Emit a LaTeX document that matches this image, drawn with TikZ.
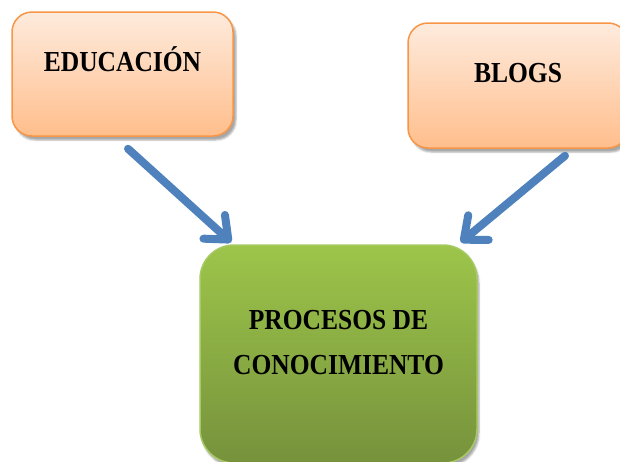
\documentclass[tikz,border=0pt]{standalone}
\usepackage{fontspec}
\newfontfamily\boxfont{Liberation Serif}[FakeStretch=0.88]
\usetikzlibrary{arrows.meta, shadows.blur}

\definecolor{peachtop}{HTML}{FEEBDD}
\definecolor{peachbot}{HTML}{FFBE8C}
\definecolor{peachline}{HTML}{F79646}
\definecolor{leaftop}{HTML}{9DC54A}
\definecolor{leafbot}{HTML}{76923C}
\definecolor{leafline}{HTML}{A6C963}
\definecolor{arrowblue}{HTML}{4F81BD}

\tikzset{
    topic/.style={draw=peachline, line width=1.5pt, rounded corners=20pt,
        top color=peachtop, bottom color=peachbot,
        minimum width=221pt, minimum height=124pt,
        blur shadow={shadow xshift=3pt, shadow yshift=-4pt, shadow opacity=35}},
    result/.style={draw=leafline, line width=1.5pt, rounded corners=34pt,
        top color=leaftop, bottom color=leafbot,
        minimum width=277pt, minimum height=218pt,
        blur shadow={shadow xshift=2pt, shadow yshift=-4pt, shadow opacity=35}},
    caption/.style={font=\boxfont\bfseries\fontsize{29}{45}\selectfont, text=black, inner sep=0pt},
    link/.style={arrowblue, line width=8pt, line cap=round,
        -{Straight Barb[length=19pt, width=32pt, round]}}
}

\begin{document}
\begin{tikzpicture}[x=1pt, y=-1pt]
    \clip (0,0) rectangle (620,461);

    % Boxes
    \node[topic] (edu) at (122.5,74) {};
    \node[topic, minimum width=220pt, minimum height=125pt] (blogs) at (518,85.5) {};
    \node[result] (proc) at (338.5,354) {};

    % Texts
    \node[caption, anchor=base] (edutext) at ([yshift=3pt]edu.center) {EDUCACIÓN};
    \node[caption, anchor=base] (blogstext) at ([yshift=3.5pt]blogs.center) {BLOGS};
    \node[caption, align=center] (proctext) at ([yshift=11.5pt]proc.center)
        {PROCESOS DE\\CONOCIMIENTO};

    % Arrows
    \draw[link] ([xshift=5.5pt, yshift=-12pt]edu.south) -- ([xshift=32pt, yshift=2pt]proc.north west);
    \draw[link] ([xshift=47pt, yshift=-7pt]blogs.south) -- ([xshift=-17pt, yshift=2pt]proc.north east);
\end{tikzpicture}
\end{document}
